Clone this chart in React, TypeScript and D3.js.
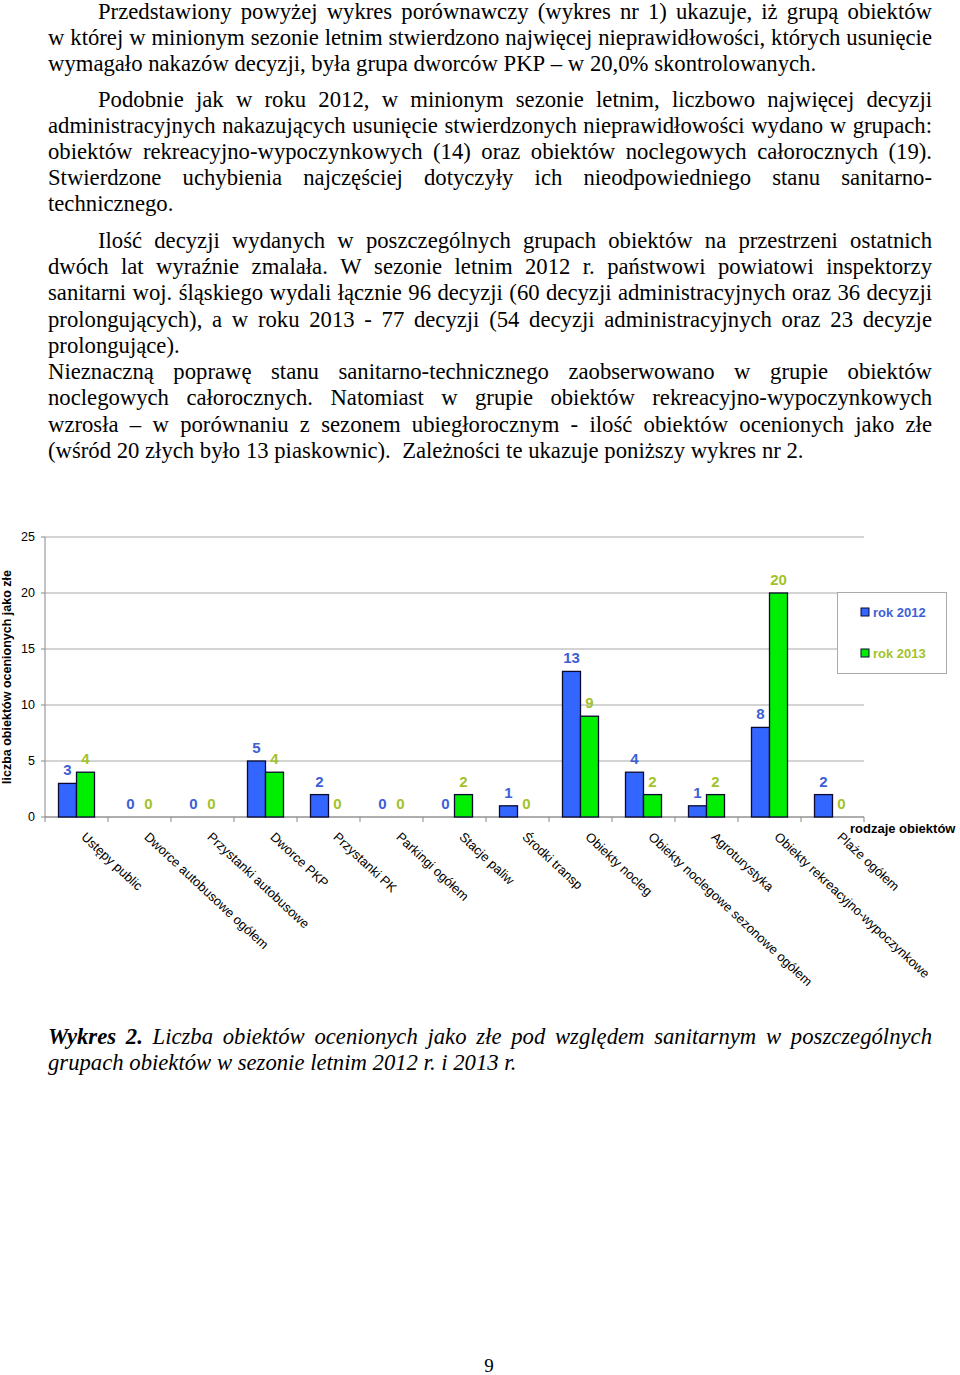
import React, { useEffect, useRef } from "react";
import * as d3 from "d3";

const categories = [
  "Ustępy public",
  "Dworce autobusowe ogółem",
  "Przystanki autobusowe",
  "Dworce PKP",
  "Przystanki PK",
  "Parkingi ogółem",
  "Stacje paliw",
  "Środki transp",
  "Obiekty nocleg",
  "Obiekty noclegowe sezonowe ogółem",
  "Agroturystyka",
  "Obiekty rekreacyjno-wypoczynkowe",
  "Plaże ogółem",
];
const values2012 = [3, 0, 0, 5, 2, 0, 0, 1, 13, 4, 1, 8, 2];
const values2013 = [4, 0, 0, 4, 0, 0, 2, 0, 9, 2, 2, 20, 0];
const seriesNames = ["rok 2012", "rok 2013"];
const yTicks = [0, 5, 10, 15, 20, 25];

const paragraphLines = [
  { t: "Przedstawiony powyżej wykres porównawczy (wykres nr 1) ukazuje, iż grupą obiektów", y: 19, x0: 98, j: true },
  { t: "w której w minionym sezonie letnim stwierdzono najwięcej nieprawidłowości, których usunięcie", y: 45, x0: 48, j: true },
  { t: "wymagało nakazów decyzji, była grupa dworców PKP – w 20,0% skontrolowanych.", y: 71, x0: 48, j: false },
  { t: "Podobnie jak w roku 2012, w minionym sezonie letnim, liczbowo najwięcej decyzji", y: 107, x0: 98, j: true },
  { t: "administracyjnych nakazujących usunięcie stwierdzonych nieprawidłowości wydano w grupach:", y: 133, x0: 48, j: true },
  { t: "obiektów rekreacyjno-wypoczynkowych (14) oraz obiektów noclegowych całorocznych (19).", y: 159, x0: 48, j: true },
  { t: "Stwierdzone uchybienia najczęściej dotyczyły ich nieodpowiedniego stanu sanitarno-", y: 185, x0: 48, j: true },
  { t: "technicznego.", y: 211, x0: 48, j: false },
  { t: "Ilość decyzji wydanych w poszczególnych grupach obiektów na przestrzeni ostatnich", y: 248, x0: 98, j: true },
  { t: "dwóch lat wyraźnie zmalała. W sezonie letnim 2012 r. państwowi powiatowi inspektorzy", y: 274, x0: 48, j: true },
  { t: "sanitarni woj. śląskiego wydali łącznie 96 decyzji (60 decyzji administracyjnych oraz 36 decyzji", y: 300, x0: 48, j: true },
  { t: "prolongujących), a w roku 2013 - 77 decyzji (54 decyzji administracyjnych oraz 23 decyzje", y: 327, x0: 48, j: true },
  { t: "prolongujące).", y: 353, x0: 48, j: false },
  { t: "Nieznaczną poprawę stanu sanitarno-technicznego zaobserwowano w grupie obiektów", y: 379, x0: 48, j: true },
  { t: "noclegowych całorocznych. Natomiast w grupie obiektów rekreacyjno-wypoczynkowych", y: 405, x0: 48, j: true },
  { t: "wzrosła – w porównaniu z sezonem ubiegłorocznym - ilość obiektów ocenionych jako złe", y: 432, x0: 48, j: true },
  { t: "(wśród 20 złych było 13 piaskownic).  Zależności te ukazuje poniższy wykres nr 2.", y: 458, x0: 48, j: false },
];

const captionLines = [
  { t: "Wykres 2. Liczba obiektów ocenionych jako złe pod względem sanitarnym w poszczególnych", y: 1044, x0: 48, j: true, bold: 2 },
  { t: "grupach obiektów w sezonie letnim 2012 r. i 2013 r.", y: 1070, x0: 48, j: false, bold: 0 },
];

const W = 960;
const H = 1375;
const TEXT_RIGHT = 932;
const SERIF = "'Liberation Serif', 'Times New Roman', serif";
const SANS = "'Liberation Sans', Arial, sans-serif";
const BLUE = "#3366FF";
const GREEN = "#00EE00";
const BLUE_TXT = "#3D5FD6";
const GREEN_TXT = "#A2C22A";
const FS = 22.7;

function layout(g: any, lines: any[], italic: boolean) {
  lines.forEach((ln) => {
    const tokens: string[] = ln.t.split(" ");
    const lg = g.append("g");
    const words: { w: string; extra: number; bold: boolean }[] = [];
    let wordIdx = 0;
    tokens.forEach((tk) => {
      if (tk.length === 0) {
        if (words.length) words[words.length - 1].extra += 1;
      } else {
        words.push({ w: tk, extra: 0, bold: !!(ln.bold && wordIdx < ln.bold) });
        wordIdx++;
      }
    });
    const nodes: any[] = words.map((wd) =>
      lg
        .append("text")
        .attr("y", ln.y)
        .attr("font-family", SERIF)
        .attr("font-size", FS)
        .attr("font-style", italic ? "italic" : "normal")
        .attr("font-weight", wd.bold ? "bold" : "normal")
        .attr("fill", "#000")
        .text(wd.w)
    );
    const widths = nodes.map((n) => (n.node() as SVGTextElement).getComputedTextLength());
    const probe = lg
      .append("text")
      .attr("font-family", SERIF)
      .attr("font-size", FS)
      .attr("font-style", italic ? "italic" : "normal")
      .style("white-space", "pre")
      .text("x x");
    const probe2 = lg
      .append("text")
      .attr("font-family", SERIF)
      .attr("font-size", FS)
      .attr("font-style", italic ? "italic" : "normal")
      .text("xx");
    const spaceW =
      (probe.node() as SVGTextElement).getComputedTextLength() -
      (probe2.node() as SVGTextElement).getComputedTextLength();
    probe.remove();
    probe2.remove();
    const sum = d3.sum(widths);
    const gap =
      ln.j && words.length > 1 ? (TEXT_RIGHT - ln.x0 - sum) / (words.length - 1) : spaceW;
    let x = ln.x0;
    nodes.forEach((n, i) => {
      n.attr("x", x);
      x += widths[i] + gap + words[i].extra * spaceW;
    });
  });
}

export default function App() {
  const textRef = useRef<SVGGElement>(null);

  useEffect(() => {
    const g = d3.select(textRef.current);
    g.selectAll("*").remove();
    layout(g.append("g"), paragraphLines, false);
    layout(g.append("g"), captionLines, true);
  }, []);

  const x0 = 45;
  const x1 = 864;
  const yBase = 817;
  const yTop = 537;

  const x = d3.scaleBand<string>().domain(categories).range([x0, x1]).paddingInner(0).paddingOuter(0);
  const sub = d3.scaleBand<string>().domain(seriesNames).range([0, 36]);
  const y = d3.scaleLinear().domain([0, 25]).range([yBase, yTop]);
  const pairOffset = (x.bandwidth() - 36) / 2;

  const series = [
    { name: seriesNames[0], values: values2012, fill: BLUE, txt: BLUE_TXT },
    { name: seriesNames[1], values: values2013, fill: GREEN, txt: GREEN_TXT },
  ];

  const boundaries = d3.range(categories.length + 1).map((i) => x0 + i * x.step());

  return (
    <svg
      width={W}
      height={H}
      style={{ position: "absolute", left: 0, top: 0, background: "#fff" }}
    >
      <rect width={W} height={H} fill="#fff" />
      <g ref={textRef} />

      {yTicks.map((t) => (
        <line key={"g" + t} x1={x0} x2={x1} y1={y(t)} y2={y(t)} stroke="#A8A8A8" strokeWidth={1} />
      ))}
      <line x1={x0} x2={x0} y1={yTop} y2={yBase} stroke="#888" strokeWidth={1} />
      {yTicks.map((t) => (
        <g key={"t" + t}>
          <line x1={x0 - 4} x2={x0} y1={y(t)} y2={y(t)} stroke="#888" />
          <text
            x={35}
            y={y(t)}
            dy="0.35em"
            textAnchor="end"
            fontFamily={SANS}
            fontSize={12.5}
            fill="#000"
          >
            {t}
          </text>
        </g>
      ))}
      <line x1={x0} x2={x1} y1={yBase} y2={yBase} stroke="#888" strokeWidth={1} />
      {boundaries.map((b, i) => (
        <line key={"xb" + i} x1={b} x2={b} y1={yBase} y2={yBase + 5} stroke="#888" />
      ))}

      {series.map((s) =>
        categories.map((c, i) => {
          const v = s.values[i];
          const bx = (x(c) as number) + pairOffset + (sub(s.name) as number);
          const bw = sub.bandwidth();
          return (
            <g key={s.name + c}>
              {v > 0 && (
                <rect
                  x={bx}
                  y={y(v)}
                  width={bw}
                  height={yBase - y(v)}
                  fill={s.fill}
                  stroke="#0A0A30"
                  strokeWidth={1.3}
                />
              )}
              <text
                x={bx + bw / 2}
                y={y(v) - 8}
                textAnchor="middle"
                fontFamily={SANS}
                fontWeight="bold"
                fontSize={15}
                fill={s.txt}
              >
                {v}
              </text>
            </g>
          );
        })
      )}

      {categories.map((c) => {
        const cx = (x(c) as number) + x.bandwidth() / 2 + 4;
        return (
          <text
            key={"cl" + c}
            transform={`translate(${cx},${yBase + 21}) rotate(43)`}
            fontFamily={SANS}
            fontSize={13}
            fill="#000"
          >
            {c}
          </text>
        );
      })}

      <text
        transform={`translate(11,677) rotate(-90)`}
        textAnchor="middle"
        fontFamily={SANS}
        fontWeight="bold"
        fontSize={12.5}
        fill="#000"
      >
        liczba obiektów ocenionych jako złe
      </text>
      <text x={850} y={833} fontFamily={SANS} fontWeight="bold" fontSize={13} fill="#000">
        rodzaje obiektów
      </text>

      <rect x={837.5} y={592.5} width={109} height={81} fill="#fff" stroke="#AAAAAA" strokeWidth={1} />
      {series.map((s, i) => (
        <g key={"lg" + s.name}>
          <rect
            x={861}
            y={608 + i * 41}
            width={8}
            height={8}
            fill={s.fill}
            stroke="#0A0A30"
            strokeWidth={1}
          />
          <text
            x={873}
            y={617 + i * 41}
            fontFamily={SANS}
            fontWeight="bold"
            fontSize={13}
            fill={s.txt}
          >
            {s.name}
          </text>
        </g>
      ))}

      <text x={489} y={1372} textAnchor="middle" fontFamily={SERIF} fontSize={19} fill="#000">
        9
      </text>
    </svg>
  );
}
